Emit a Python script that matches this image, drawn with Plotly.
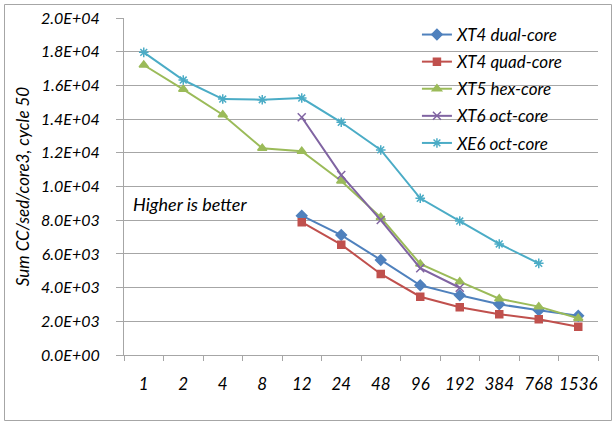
import plotly.graph_objects as go

categories = ["1", "2", "4", "8", "12", "24", "48", "96", "192", "384", "768", "1536"]

xt4_dual = [None, None, None, None, 8270, 7120, 5640, 4140, 3540, 3010, 2650, 2330]
xt4_quad = [None, None, None, None, 7880, 6550, 4810, 3460, 2830, 2420, 2120, 1680]
xt5_hex = [17210, 15770, 14260, 12270, 12090, 10330, 8170, 5400, 4350, 3340, 2870, 2180]
xt6_oct = [None, None, None, None, 14110, 10680, 8010, 5150, 3990, None, None, None]
xe6_oct = [17960, 16320, 15190, 15150, 15250, 13810, 12170, 9300, 7950, 6590, 5440, None]

y_ticks = [0, 2000, 4000, 6000, 8000, 10000, 12000, 14000, 16000, 18000, 20000]
y_tick_labels = ["0.0E+00", "2.0E+03", "4.0E+03", "6.0E+03", "8.0E+03", "1.0E+04",
                 "1.2E+04", "1.4E+04", "1.6E+04", "1.8E+04", "2.0E+04"]

FONT = "Lato"
FS = 17

series = [
    ("XT4 dual-core", xt4_dual, "#4F81BD", "diamond", 8),
    ("XT4 quad-core", xt4_quad, "#C0504D", "square", 7),
    ("XT5 hex-core", xt5_hex, "#9BBB59", "triangle-up", 8),
    ("XT6 oct-core", xt6_oct, "#8064A2", "x-thin-open", 8),
    ("XE6 oct-core", xe6_oct, "#4BACC6", "asterisk-open", 8),
]

fig = go.Figure()
for i, (name, vals, color, sym, size) in enumerate(series):
    fig.add_trace(go.Scatter(
        x=categories, y=vals, name=name, mode="lines+markers",
        line=dict(color=color, width=2),
        marker=dict(symbol=sym, size=size, color=color,
                    line=dict(color=color, width=1.5)),
        legendgroup=f"g{i}",
        connectgaps=False,
    ))

fig.update_layout(
    width=613, height=424,
    margin=dict(l=124, r=15, t=18, b=69),
    paper_bgcolor="white", plot_bgcolor="white",
    font=dict(family=FONT, size=FS, color="#000000", style="italic"),
    showlegend=True,
    legend=dict(
        x=0.618, y=1.003, xanchor="left", yanchor="top",
        font=dict(family=FONT, size=FS, style="italic"),
        bgcolor="rgba(0,0,0,0)",
        tracegroupgap=2, itemwidth=30,
    ),
    xaxis=dict(
        type="category", categoryorder="array", categoryarray=categories,
        showline=True, linecolor="#A6A6A6", linewidth=1,
        ticks="outside", ticklen=5, tickcolor="#A6A6A6", tickson="boundaries",
        showgrid=False, zeroline=False, automargin=False, tickangle=0,
        tickfont=dict(family=FONT, size=FS, style="italic"),
        ticklabelstandoff=14,
        range=[-0.5, 11.5],
    ),
    yaxis=dict(
        range=[0, 20000], tickvals=y_ticks, ticktext=y_tick_labels,
        showline=True, linecolor="#A6A6A6", linewidth=1,
        ticks="outside", ticklen=7, tickcolor="#A6A6A6",
        showgrid=True, gridcolor="#A6A6A6", gridwidth=1,
        zeroline=False, automargin=False,
        tickfont=dict(family=FONT, size=16, style="italic"),
        ticklabelstandoff=13,
        title=dict(text="Sum CC/sed/core3, cycle 50",
                   font=dict(family=FONT, size=FS, style="italic"), standoff=7),
    ),
    annotations=[dict(
        text="Higher is better", xref="paper", yref="paper",
        x=0.015, y=0.448, xanchor="left", yanchor="middle", showarrow=False,
        font=dict(family=FONT, size=18, style="italic"),
    )],
    shapes=[dict(
        type="rect", xref="paper", yref="paper",
        x0=(4.5 - 124) / 474, x1=(611.5 - 124) / 474,
        y0=(355 - 420.5) / 337, y1=(355 - 4.5) / 337,
        line=dict(color="#A6A6A6", width=1), fillcolor="rgba(0,0,0,0)",
        layer="below",
    )],
)

fig.write_html("out.html", config={"displayModeBar": False},
               post_script="document.body.style.margin='0px';document.body.style.overflow='hidden';")
